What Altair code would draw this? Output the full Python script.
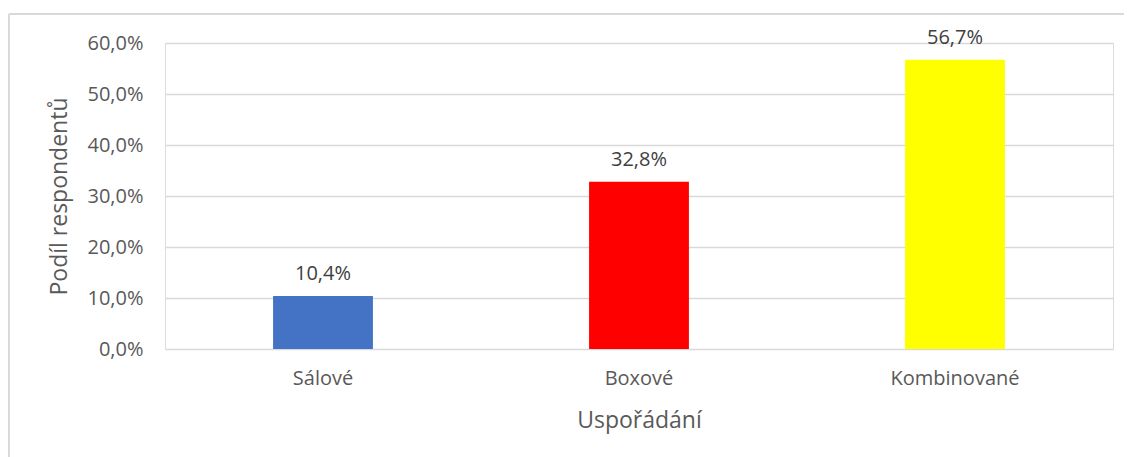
import altair as alt
import pandas as pd

categories = ["Sálové", "Boxové", "Kombinované"]
values = [0.104, 0.328, 0.567]
labels = ["10,4%", "32,8%", "56,7%"]
colors = ["#4472C4", "#FF0000", "#FFFF00"]

df = pd.DataFrame({"kat": categories, "val": values, "lab": labels, "col": colors})

FONT = "Open Sans"
GRAY = "#595959"

x = alt.X("kat:N", sort=categories, title="Uspořádání",
          scale=alt.Scale(paddingInner=0.684, paddingOuter=0.342),
          axis=alt.Axis(labelAngle=0, ticks=False, domain=False, labelPadding=19,
                        titlePadding=21, labelFontSize=20, titleFontSize=23,
                        labelColor=GRAY, titleColor=GRAY, labelFont=FONT, titleFont=FONT,
                        titleFontWeight="normal", grid=False))
y = alt.Y("val:Q", title="Podíl respondentů",
          scale=alt.Scale(domain=[0, 0.6], nice=False),
          axis=alt.Axis(values=[0, 0.1, 0.2, 0.3, 0.4, 0.5, 0.6],
                        labelExpr="replace(format(datum.value*100, '.1f'), '.', ',') + '%'",
                        ticks=False, domain=False, labelPadding=22, titlePadding=15,
                        labelFontSize=20, titleFontSize=23, labelColor=GRAY, titleColor=GRAY,
                        labelFont=FONT, titleFont=FONT, titleFontWeight="normal",
                        gridColor="#d9d9d9", gridWidth=1.3))

bars = alt.Chart(df).mark_bar().encode(
    x=x, y=y, color=alt.Color("col:N", scale=None))

text = alt.Chart(df).mark_text(dy=-12, baseline="bottom", fontSize=20, font=FONT,
                               color="#404040").encode(
    x=alt.X("kat:N", sort=categories), y="val:Q", text="lab:N")

border_v = alt.Chart(df).mark_rule(color="#d9d9d9", strokeWidth=1.3).encode(
    x=alt.value(-156), y=alt.value(-29), y2=alt.value(420))
border_h = alt.Chart(df).mark_rule(color="#d9d9d9", strokeWidth=1.3).encode(
    x=alt.value(-156), x2=alt.value(1000), y=alt.value(-29))

chart = alt.layer(border_v, border_h, bars, text).properties(
    width=948, height=306,
    autosize=alt.AutoSizeParams(type="none"),
    padding={"left": 157, "top": 35, "right": 11, "bottom": 108},
).configure_view(stroke=None).configure(background="white")

chart.save("out.html", embed_options={"renderer": "svg", "actions": False})
